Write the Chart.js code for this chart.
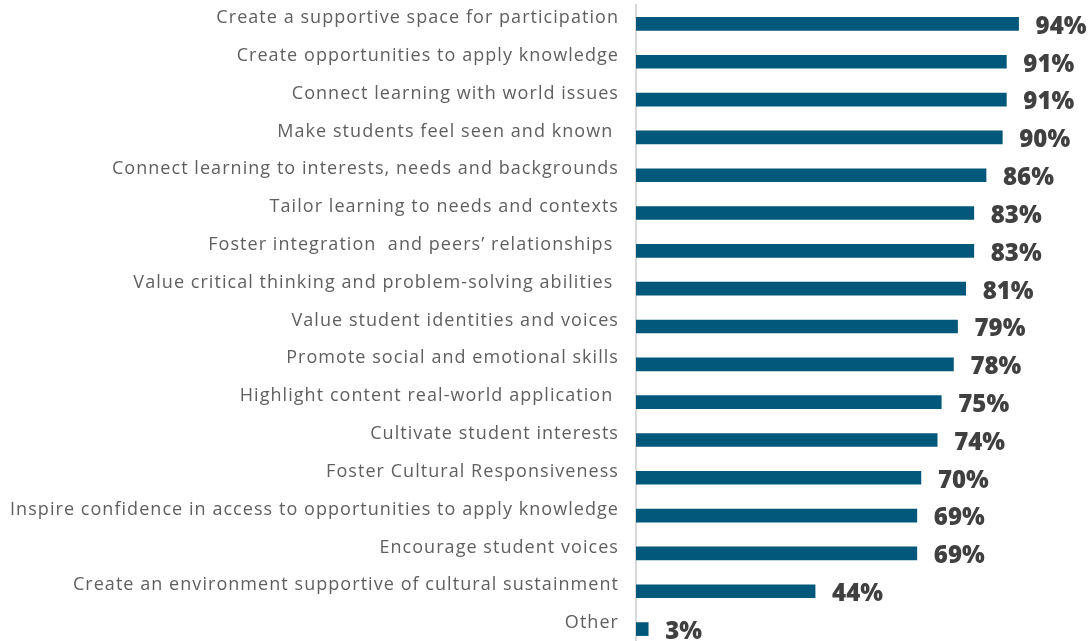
<!DOCTYPE html>
<html>
<head>
<meta charset="utf-8">
<script src="https://cdn.jsdelivr.net/npm/chart.js@4.4.1/dist/chart.umd.min.js"></script>
<style>
  html, body { margin: 0; padding: 0; background: #ffffff; overflow: hidden; }
  #wrap { position: relative; width: 1090px; height: 648px; }
</style>
</head>
<body>
<div id="wrap"><canvas id="chart-practices"></canvas></div>
<script>
// categories, top to bottom
const practices = [
  'Create a supportive space for participation',
  'Create opportunities to apply knowledge',
  'Connect learning with world issues',
  'Make students feel seen and known ',
  'Connect learning to interests, needs and backgrounds',
  'Tailor learning to needs and contexts',
  'Foster integration  and peers\u2019 relationships ',
  'Value critical thinking and problem-solving abilities ',
  'Value student identities and voices',
  'Promote social and emotional skills',
  'Highlight content real-world application ',
  'Cultivate student interests',
  'Foster Cultural Responsiveness',
  'Inspire confidence in access to opportunities to apply knowledge',
  'Encourage student voices',
  'Create an environment supportive of cultural sustainment',
  'Other'
]

// share of respondents (%)
const percentages = [94, 91, 91, 90, 86, 83, 83, 81, 79, 78, 75, 74, 70, 69, 69, 44, 3]

const barColor = '#02587a'

// spaced-out category text, plain value labels
const letterSpacingPlugin = {
  id: 'letterSpacing',
  beforeDraw(chart) {
    chart.ctx.letterSpacing = '1.05px'
  },
  afterDraw(chart) {
    chart.ctx.letterSpacing = '0px'
  }
}

// percent label to the right of each bar
const valueLabels = {
  id: 'valueLabels',
  afterDatasetsDraw(chart) {
    const ctx = chart.ctx
    const meta = chart.getDatasetMeta(0)
    ctx.save()
    ctx.letterSpacing = '0px'
    ctx.font = '800 24px "Open Sans"'
    ctx.fillStyle = '#404040'
    ctx.textAlign = 'left'
    ctx.textBaseline = 'middle'
    meta.data.forEach((bar, i) => {
      ctx.fillText(percentages[i] + '%', bar.x + 17, bar.y + 3)
    })
    ctx.restore()
  }
}

new Chart(document.getElementById('chart-practices'), {
  type: 'bar',
  data: {
    labels: practices,
    datasets: [{
      data: percentages,
      backgroundColor: barColor,
      borderWidth: 0,
      barThickness: 13
    }]
  },
  options: {
    indexAxis: 'y',
    responsive: true,
    maintainAspectRatio: false,
    animation: false,
    layout: {
      padding: { top: 5, right: 47, bottom: 0, left: 0 }
    },
    plugins: {
      legend: { display: false },
      tooltip: { enabled: false }
    },
    scales: {
      x: {
        display: false,
        min: 0,
        max: 100
      },
      y: {
        afterFit(scale) {
          scale.width = 636
          scale.paddingTop = 0
          scale.paddingBottom = 0
        },
        grid: { display: false, drawTicks: false },
        border: { display: true, color: '#d9d9d9', width: 2 },
        ticks: {
          padding: 17,
          labelOffset: -6,
          color: '#5f5f5f',
          font: { family: 'Open Sans', size: 18 }
        }
      }
    }
  },
  plugins: [letterSpacingPlugin, valueLabels]
})
</script>
</body>
</html>
